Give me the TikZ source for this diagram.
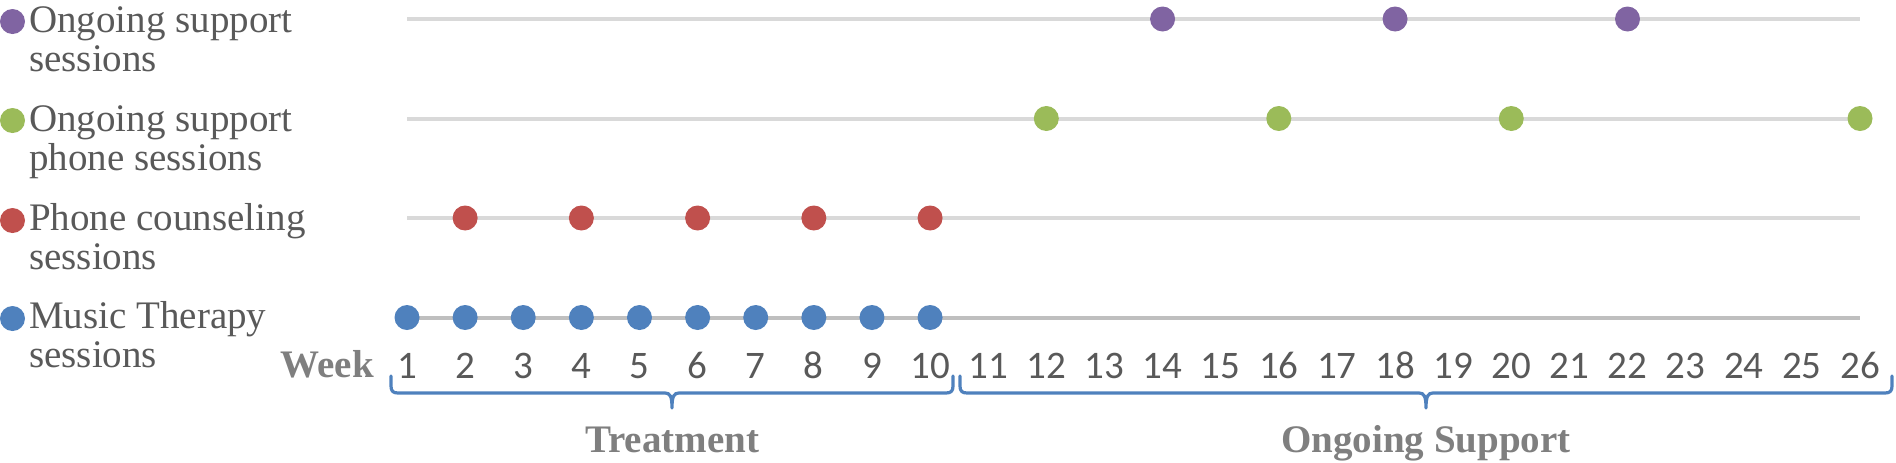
\documentclass[tikz,border=0pt]{standalone}
\usepackage{fontspec}
\setmainfont{Liberation Serif}
\newfontfamily\timesfont{Liberation Serif}
\newfontfamily\calibfont{Carlito}
\definecolor{cpurple}{HTML}{8064A2}
\definecolor{cgreen}{HTML}{9BBB59}
\definecolor{cred}{HTML}{C0504D}
\definecolor{cblue}{HTML}{4F81BD}
\definecolor{txtgray}{HTML}{595959}
\definecolor{boldgray}{HTML}{7F7F7F}
\definecolor{lightline}{HTML}{D9D9D9}
\definecolor{axisline}{HTML}{BFBFBF}
\begin{document}
\begin{tikzpicture}[x=0.75pt,y=-0.75pt,
  sdot/.style={circle,fill=#1,draw=none,inner sep=0pt,minimum size=18.75pt},
  gridline/.style={draw=lightline,line width=3pt},
  axisgrid/.style={draw=axisline,line width=3pt},
  legtext/.style={font=\timesfont\fontsize{29.25}{29.25}\selectfont,text=txtgray,inner sep=0pt,anchor=base west},
  num/.style={font=\calibfont\fontsize{29.25}{29.25}\selectfont,text=txtgray,inner sep=0pt,anchor=base},
  weekst/.style={font=\timesfont\bfseries\fontsize{29.25}{29.25}\selectfont,text=boldgray,inner sep=0pt},
  bracest/.style={draw=cblue,line width=2.4pt,line join=round,line cap=round}
]
\useasboundingbox (0,0) rectangle (1896,462);

% row guide lines
\coordinate (r1s) at (407,19);    \coordinate (r1e) at (1860,19);
\coordinate (r2s) at (407,118.5); \coordinate (r2e) at (1860,118.5);
\coordinate (r3s) at (407,218);   \coordinate (r3e) at (1860,218);
\coordinate (r4s) at (407,317.5); \coordinate (r4e) at (1860,317.5);
\draw[gridline] (r1s) -- (r1e);
\draw[gridline] (r2s) -- (r2e);
\draw[gridline] (r3s) -- (r3e);
\draw[axisgrid] (r4s) -- (r4e);

% session dots
\foreach \k in {14,18,22}
  \node[sdot=cpurple] (p\k) at ({407+58.12*(\k-1)},19) {};
\foreach \k in {12,16,20,26}
  \node[sdot=cgreen] (g\k) at ({407+58.12*(\k-1)},118.5) {};
\foreach \k in {2,4,6,8,10}
  \node[sdot=cred] (c\k) at ({407+58.12*(\k-1)},218) {};
\foreach \k in {1,...,10}
  \node[sdot=cblue] (b\k) at ({407+58.12*(\k-1)},317.5) {};

% legend
\node[sdot=cpurple] (lm1) at (12.5,21.5) {};
\node[legtext] (lt1) at (29,32) {\begin{tabular}[t]{@{}l@{}}Ongoing support\\sessions\end{tabular}};
\node[sdot=cgreen] (lm2) at (12.5,120.5) {};
\node[legtext] (lt2) at (29,131) {\begin{tabular}[t]{@{}l@{}}Ongoing support\\phone sessions\end{tabular}};
\node[sdot=cred] (lm3) at (12.5,220.5) {};
\node[legtext] (lt3) at (29,230) {\begin{tabular}[t]{@{}l@{}}Phone counseling\\sessions\end{tabular}};
\node[sdot=cblue] (lm4) at (12.5,318.5) {};
\node[legtext] (lt4) at (29,328) {\begin{tabular}[t]{@{}l@{}}Music Therapy\\sessions\end{tabular}};

% axis
\node[weekst,anchor=base east] (week) at (374,377) {Week};
\foreach \k in {1,...,26}
  \node[num] (n\k) at ({407+58.12*(\k-1)},378) {\k};

% braces
\draw[bracest] (391,376) -- (391,386) .. controls (391,391) and (393,393) .. (398,393)
  -- (665,393) .. controls (670,393) and (672,396) .. (672,408)
  .. controls (672,396) and (674,393) .. (679,393)
  -- (946,393) .. controls (951,393) and (953,391) .. (953,386) -- (953,376);
\draw[bracest] (960,376) -- (960,386) .. controls (960,391) and (962,393) .. (967,393)
  -- (1419,393) .. controls (1424,393) and (1426,396) .. (1426,408)
  .. controls (1426,396) and (1428,393) .. (1433,393)
  -- (1885,393) .. controls (1890,393) and (1892,391) .. (1892,386) -- (1892,376);

\node[weekst,anchor=base] (treat) at (672,452) {Treatment};
\node[weekst,anchor=base] (ongo) at (1426,452) {Ongoing Support};
\end{tikzpicture}
\end{document}
